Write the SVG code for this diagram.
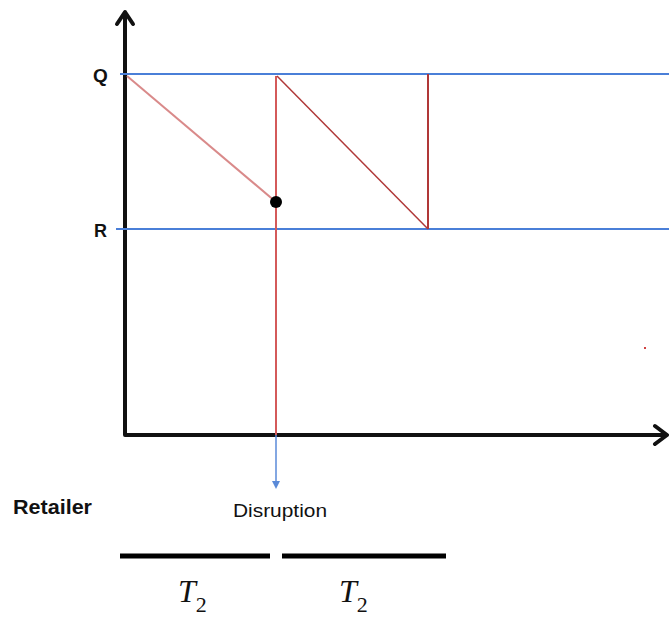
<svg xmlns="http://www.w3.org/2000/svg" width="669" height="619" viewBox="0 0 669 619">
<style>
.axis{stroke:#111;stroke-width:4;fill:none;stroke-linecap:round;stroke-linejoin:round}
.ref{stroke:#4a7fd8;stroke-width:2;fill:none}
.inv{stroke:#b03838;stroke-width:1.5;fill:none}
.lbl{font-family:"Liberation Sans",Arial,sans-serif;fill:#111}
.t2{font-family:"Liberation Serif","Times New Roman",serif;font-style:italic;fill:#111}
.bar{stroke:#000;stroke-width:5}
</style>
<rect width="669" height="619" fill="#fff"/>
<g id="axes">
<path class="axis" d="M125,14 L125,435 L665,435"/>
<path class="axis" d="M117,24 L125,12 L133,24"/>
<path class="axis" d="M655,426 L667,435 L655,444"/>
</g>
<g id="levels">
<line class="ref" x1="120" y1="74" x2="669" y2="74"/>
<line class="ref" x1="116" y1="229" x2="669" y2="229"/>
<text class="lbl" x="93" y="82" font-size="19" font-weight="bold">Q</text>
<text class="lbl" x="94" y="237" font-size="18" font-weight="bold">R</text>
</g>
<g id="connectors">
<line x1="127" y1="76" x2="276" y2="202" stroke="#d98a8a" stroke-width="2"/>
<line x1="276" y1="76" x2="276" y2="435" stroke="#d45a5a" stroke-width="2"/>
<line class="inv" x1="277" y1="76" x2="428" y2="229"/>
<line x1="428" y1="74" x2="428" y2="229" stroke="#b03838" stroke-width="2"/>
<line x1="276" y1="435" x2="276" y2="483" stroke="#5a8ad8" stroke-width="1.5"/>
<path d="M272,481 L276,489 L280,481 Z" fill="#5a8ad8"/>
</g>
<g id="disruption-point">
<circle cx="276" cy="202" r="6" fill="#000"/>
</g>
<rect x="644" y="347" width="2" height="2" fill="#d04040"/>
<g id="labels">
<text class="lbl" x="13" y="514" font-size="20" font-weight="bold" textLength="79" lengthAdjust="spacingAndGlyphs">Retailer</text>
<text class="lbl" x="233" y="517" font-size="18" textLength="94" lengthAdjust="spacingAndGlyphs">Disruption</text>
</g>
<g id="periods">
<line class="bar" x1="120" y1="556" x2="270" y2="556"/>
<line class="bar" x1="282" y1="556" x2="446" y2="556"/>
<text class="t2" x="178" y="602" font-size="32">T<tspan font-style="normal" font-size="22" dy="10">2</tspan></text>
<text class="t2" x="339" y="602" font-size="32">T<tspan font-style="normal" font-size="22" dy="10">2</tspan></text>
</g>
</svg>
